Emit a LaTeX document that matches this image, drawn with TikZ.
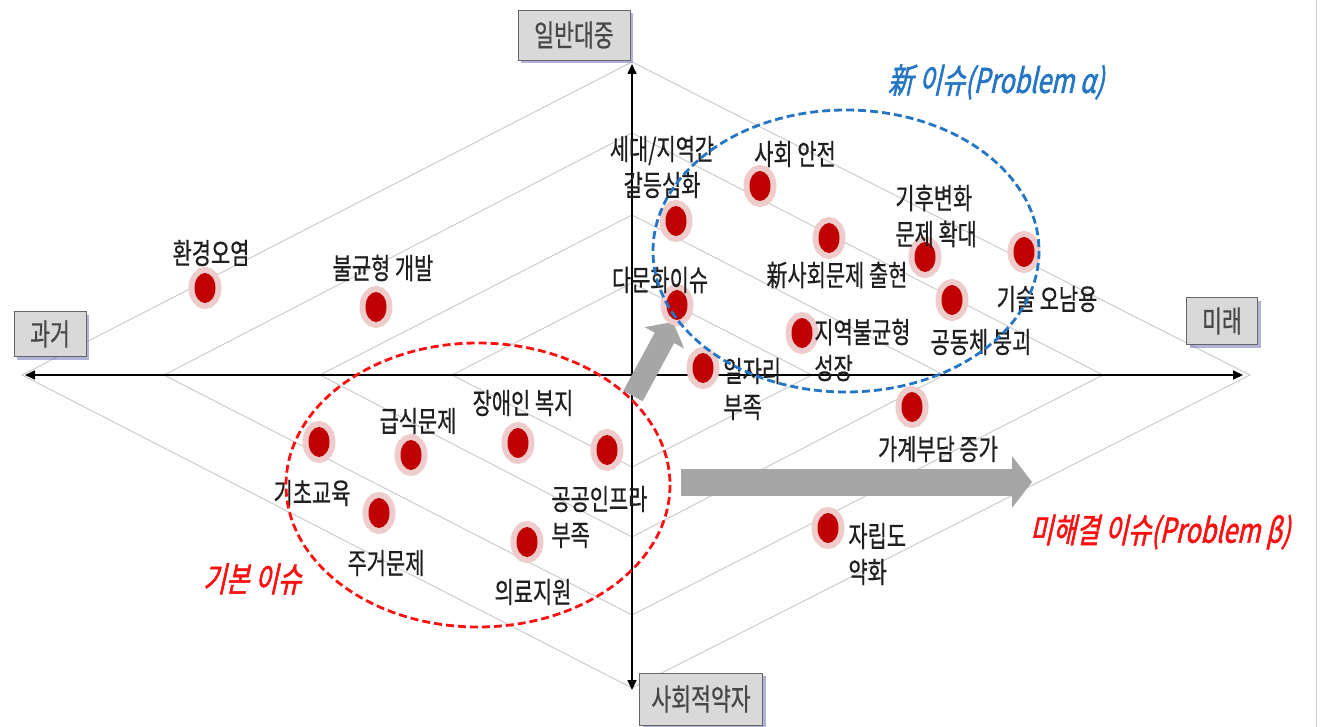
\documentclass[tikz,border=0pt]{standalone}
\usepackage{fontspec}
\newfontfamily\kr[FakeStretch=0.72,FakeBold=0.6]{Noto Sans CJK KR}
\newfontfamily\krit[FakeStretch=0.74,FakeSlant=0.22,FakeBold=1.6]{Noto Sans CJK KR}
\usetikzlibrary{arrows.meta,shapes.geometric,shadows}
\definecolor{spotred}{HTML}{C00000}
\definecolor{halo}{HTML}{EFCCCC}
\definecolor{gridgray}{HTML}{CCCCCC}
\definecolor{boxgray}{HTML}{D9D9D9}
\definecolor{newblue}{HTML}{2475C4}
\definecolor{oldred}{HTML}{FF1010}
\definecolor{arrgray}{HTML}{A6A6A6}
\tikzset{
  gridline/.style={draw=gridgray, line width=0.5pt},
  axisline/.style={line width=0.8pt, {Triangle[length=5pt,width=4.5pt]}-{Triangle[length=5pt,width=4.5pt]}},
  axisbox/.style={draw=black!60, fill=boxgray, text=black!72, inner sep=0pt,
    font=\kr\fontsize{15}{16}\selectfont,
    drop shadow={shadow xshift=1.5pt, shadow yshift=-1.5pt, fill=blue!35!gray, opacity=.45}},
  spot/.style={ellipse, fill=spotred, minimum width=10.5pt, minimum height=15pt, inner sep=0pt,
    preaction={draw=halo, line width=6pt}},
  lbl/.style={font=\kr\fontsize{14.5}{18}\selectfont, text=black!88, inner sep=0pt, align=left},
  grp/.style={font=\krit\fontsize{17}{18}\selectfont, inner sep=0pt},
  ring/.style={line width=1.4pt, dash pattern=on 4pt off 2pt},
  bigarrow/.style={draw=arrgray, line width=#1}
}
\begin{document}
\begin{tikzpicture}[x=0.5pt, y=-0.5pt]
    \useasboundingbox (0,0) rectangle (1322,727);
    \draw[gridgray] (1316,0) -- (1316,727);
    % nested diamonds
    \foreach \l/\t/\r/\b in {22/62/1250/688, 164/133/1103/615, 320/215/944/537, 452/283/812/467}
        \draw[gridline] (\l,375) -- (632,\t) -- (\r,375) -- (632,\b) -- cycle;
    % axes
    \coordinate (past) at (25,375);
    \coordinate (future) at (1243,375);
    \coordinate (public) at (632,64);
    \coordinate (weak) at (632,690);
    \draw[axisline] (past) -- (future);
    \draw[axisline] (weak) -- (public);
    \node[axisbox, minimum width=56pt, minimum height=25pt] (boxpublic) at (574,35) {일반대중};
    \node[axisbox, minimum width=36pt, minimum height=22.5pt] (boxpast) at (50,334) {과거};
    \node[axisbox, minimum width=35.5pt, minimum height=23.5pt] (boxfuture) at (1222,321) {미래};
    \node[axisbox, minimum width=61.5pt, minimum height=26pt] (boxweak) at (701,699) {사회적약자};
    % gray arrows
    \coordinate (upfrom) at (633,396);
    \coordinate (upto) at (673,322);
    \coordinate (rightfrom) at (681,482);
    \coordinate (rightto) at (1032,482);
    \draw[bigarrow=11pt, -{Triangle[length=9pt,width=22pt]}] (upfrom) -- (upto);
    \draw[bigarrow=13.5pt, -{Triangle[length=10pt,width=25.5pt]}] (rightfrom) -- (rightto);
    % issues
    \foreach \n/\x/\y in {env/205/288, unbal/376/307, conf/676/221, safe/760/186, newsoc/829/238,
        climate/925/257, tech/1024/252, comm/952/300, multi/677/305, region/802/333, job/703/368,
        house/912/407, indep/828/528, meal/411/455, disab/518/443, infra/607/450, edu/319/442,
        home/379/513, med/527/542}
        \node[spot] (\n) at (\x,\y) {};
    \node[lbl] (envtxt) at (211,253) {환경오염};
    \node[lbl] (unbaltxt) at (383,268) {불균형 개발};
    \node[lbl, align=center] (conftxt) at (662,167) {세대/지역간\\갈등심화};
    \node[lbl] (safetxt) at (795,154) {사회 안전};
    \node[lbl] (newsoctxt) at (837,275) {新사회문제 출현};
    \node[lbl, anchor=west] (climatetxt) at (895,216) {기후변화\\문제 확대};
    \node[lbl] (techtxt) at (1047,299) {기술 오남용};
    \node[lbl] (commtxt) at (981,342) {공동체 붕괴};
    \node[lbl] (multitxt) at (660,280) {다문화이슈};
    \node[lbl, anchor=west] (regiontxt) at (814,350) {지역불균형\\성장};
    \node[lbl, anchor=west] (jobtxt) at (723,389) {일자리\\부족};
    \node[lbl] (housetxt) at (938,449) {가계부담 증가};
    \node[lbl, anchor=west] (indeptxt) at (848,554) {자립도\\약화};
    \node[lbl] (mealtxt) at (418,421) {급식문제};
    \node[lbl] (disabtxt) at (523,403) {장애인 복지};
    \node[lbl, anchor=west] (infratxt) at (551,517) {공공인프라\\부족};
    \node[lbl] (edutxt) at (312,493) {기초교육};
    \node[lbl] (hometxt) at (386,563) {주거문제};
    \node[lbl] (medtxt) at (533,592) {의료지원};
    % groups
    \draw[ring, oldred] (478,485) ellipse [x radius=192, y radius=142];
    \draw[ring, newblue] (846,251) ellipse [x radius=193, y radius=141];
    \node[grp, text=newblue] (newgrp) at (996,82) {新 이슈(Problem α)};
    \node[grp, text=oldred] (opengrp) at (1160,532) {미해결 이슈(Problem β)};
    \node[grp, text=oldred] (basegrp) at (252,579) {기본 이슈};
\end{tikzpicture}
\end{document}
